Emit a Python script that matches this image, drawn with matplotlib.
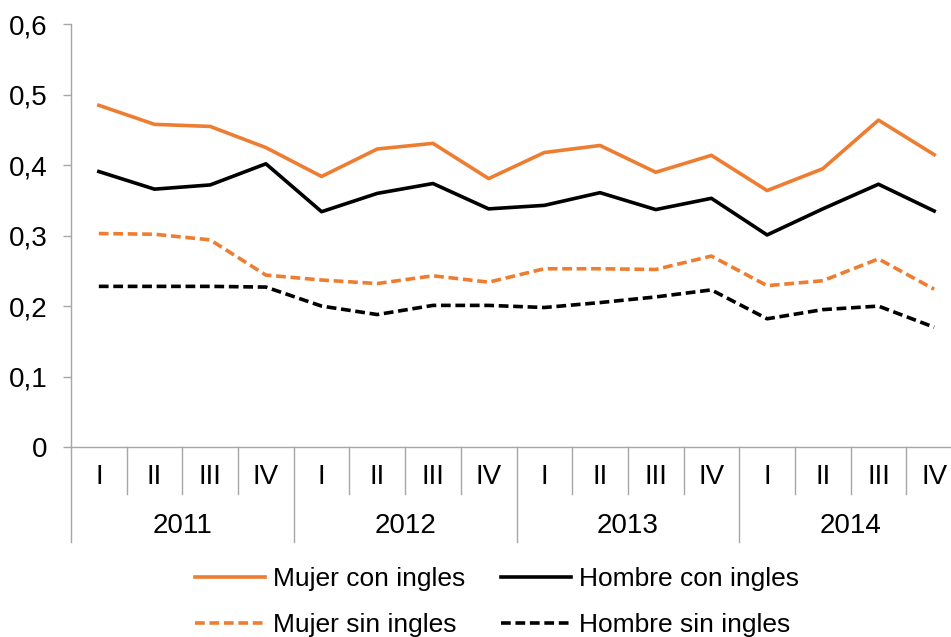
import matplotlib
matplotlib.use('Agg')
import matplotlib.pyplot as plt
import matplotlib.transforms as mtransforms

plt.rcParams['font.family'] = ['Liberation Sans', 'DejaVu Sans']

# data
years = ['2011', '2012', '2013', '2014']
quarters = ['I', 'II', 'III', 'IV']
y_tick_labels = ['0', '0,1', '0,2', '0,3', '0,4', '0,5', '0,6']
y_ticks = [0, 0.1, 0.2, 0.3, 0.4, 0.5, 0.6]

mujer_con = [0.485, 0.458, 0.455, 0.425, 0.384, 0.423, 0.431, 0.381,
             0.418, 0.428, 0.390, 0.414, 0.364, 0.395, 0.464, 0.415]
hombre_con = [0.391, 0.366, 0.372, 0.402, 0.334, 0.360, 0.374, 0.338,
              0.343, 0.361, 0.337, 0.353, 0.301, 0.338, 0.373, 0.335]
mujer_sin = [0.303, 0.302, 0.294, 0.244, 0.237, 0.232, 0.243, 0.234,
             0.253, 0.253, 0.252, 0.271, 0.229, 0.236, 0.267, 0.224]
hombre_sin = [0.228, 0.228, 0.228, 0.227, 0.200, 0.188, 0.201, 0.201,
              0.198, 0.205, 0.213, 0.223, 0.182, 0.195, 0.200, 0.170]

ORANGE = '#ED7D31'
GRAY = '#A6A6A6'
W, H = 951, 637

fig = plt.figure(figsize=(W / 100, H / 100), dpi=100)
# plot area is cut off on the right in the original
ax = fig.add_axes([71 / W, 1 - 447 / H, (962 - 71) / W, (447 - 24.3) / H])

x = list(range(len(mujer_con)))
dash = (0, (2.7, 1.3))
lw = 2.6
l1, = ax.plot(x, mujer_con, color=ORANGE, lw=lw, label='Mujer con ingles')
l2, = ax.plot(x, hombre_con, color='black', lw=lw, label='Hombre con ingles')
l3, = ax.plot(x, mujer_sin, color=ORANGE, lw=lw, ls=dash, label='Mujer sin ingles')
l4, = ax.plot(x, hombre_sin, color='black', lw=lw, ls=dash, label='Hombre sin ingles')

ax.set_xlim(-0.5, len(x) - 0.5)
ax.set_ylim(0, 0.6)

for s in ['top', 'right']:
    ax.spines[s].set_visible(False)
for s in ['left', 'bottom']:
    ax.spines[s].set_color(GRAY)
    ax.spines[s].set_linewidth(1.0)

ax.set_yticks(y_ticks)
ax.set_yticklabels(y_tick_labels)
ax.tick_params(axis='y', length=6, width=1, color=GRAY, pad=11, labelsize=20)

# quarter labels at category centres
ax.set_xticks(x)
ax.set_xticklabels(quarters * len(years))
ax.tick_params(axis='x', length=0, pad=12, labelsize=20)

# separators below the axis
trans = mtransforms.blended_transform_factory(ax.transData, ax.transAxes)
ax_h_px = 447 - 24.3
q_depth = -(494 - 447) / ax_h_px
y_depth = -(542 - 447) / ax_h_px
n = len(x)
for b in range(n + 1):
    pos = b - 0.5
    depth = y_depth if b % 4 == 0 else q_depth
    ax.plot([pos, pos], [0, depth], color=GRAY, lw=1.0, transform=trans, clip_on=False)

for i, yr in enumerate(years):
    ax.text(i * 4 + 1.5, -(526 - 447) / ax_h_px, yr, transform=trans,
            ha='center', va='center', fontsize=20)

# legend filled row by row like the original
fig.legend(handles=[l1, l3, l2, l4], ncol=2, frameon=False, fontsize=19,
           loc='upper left', bbox_to_anchor=(195 / W, 1 - 567 / H),
           borderpad=0, borderaxespad=0, handlelength=2.65, handletextpad=0.3,
           columnspacing=1.35, labelspacing=0.85)

fig.savefig('out.png', dpi=100)
